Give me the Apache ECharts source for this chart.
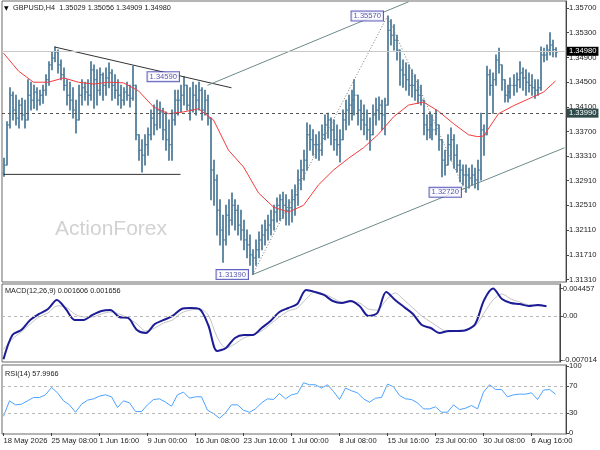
<!DOCTYPE html>
<html>
<head>
<meta charset="utf-8">
<script src="https://cdn.jsdelivr.net/npm/echarts@6.0.0/dist/echarts.min.js"></script>
<style>html,body{margin:0;padding:0;background:#fff}#c{width:600px;height:450px}</style>
</head>
<body>
<div id="c"></div>
<script>
// ---------------- data ----------------
const symbolName = 'GBPUSD,H4';
const timeLabels = ['18 May 2026','25 May 08:00','1 Jun 16:00','9 Jun 00:00','16 Jun 08:00','23 Jun 16:00',
  '1 Jul 00:00','8 Jul 08:00','15 Jul 16:00','23 Jul 00:00','30 Jul 08:00','6 Aug 16:00'];
const slotCount = 188;
const firstOpen = 1.3303;
const highs = [
 1.3327,1.3386,1.3441,1.3434,1.3429,1.3421,1.3424,1.3421,1.3454,1.3450,
 1.3445,1.3441,1.3437,1.3445,1.3462,1.3483,1.3499,1.3507,1.3502,1.3486,
 1.3473,1.3454,1.3450,1.3441,1.3421,1.3445,1.3454,1.3450,1.3454,1.3483,
 1.3478,1.3470,1.3473,1.3465,1.3473,1.3481,1.3470,1.3462,1.3454,1.3445,
 1.3441,1.3450,1.3445,1.3476,1.3445,1.3365,1.3357,1.3365,1.3376,1.3405,
 1.3413,1.3421,1.3418,1.3408,1.3402,1.3389,1.3405,1.3437,1.3437,1.3445,
 1.3459,1.3445,1.3441,1.3450,1.3445,1.3450,1.3441,1.3437,1.3429,1.3392,
 1.3324,1.3300,1.3260,1.3235,1.3251,1.3260,1.3271,1.3260,1.3251,1.3243,
 1.3227,1.3211,1.3203,1.3179,1.3195,1.3208,1.3219,1.3227,1.3235,1.3243,
 1.3251,1.3263,1.3268,1.3272,1.3268,1.3260,1.3276,1.3284,1.3308,1.3324,
 1.3340,1.3384,1.3381,1.3373,1.3365,1.3370,1.3381,1.3397,1.3400,1.3392,
 1.3389,1.3381,1.3373,1.3405,1.3421,1.3429,1.3437,1.3454,1.3429,1.3421,
 1.3413,1.3405,1.3392,1.3413,1.3424,1.3426,1.3421,1.3424,1.3557,1.3551,
 1.3543,1.3526,1.3502,1.3486,1.3481,1.3478,1.3470,1.3462,1.3454,1.3445,
 1.3421,1.3397,1.3402,1.3397,1.3405,1.3381,1.3357,1.3340,1.3365,1.3376,
 1.3365,1.3349,1.3324,1.3316,1.3316,1.3311,1.3316,1.3311,1.3324,1.3400,
 1.3381,1.3476,1.3470,1.3465,1.3494,1.3505,1.3478,1.3454,1.3445,1.3457,
 1.3462,1.3465,1.3483,1.3473,1.3470,1.3465,1.3462,1.3454,1.3454,1.3507,
 1.3505,1.3510,1.3530,1.3518,1.35056];
const lows = [
 1.3298,1.3316,1.3376,1.3389,1.3381,1.3376,1.3389,1.3376,1.3389,1.3405,
 1.3408,1.3405,1.3413,1.3416,1.3429,1.3445,1.3470,1.3483,1.3465,1.3454,
 1.3437,1.3413,1.3405,1.3392,1.3368,1.3389,1.3413,1.3421,1.3413,1.3421,
 1.3408,1.3413,1.3429,1.3421,1.3429,1.3441,1.3421,1.3424,1.3413,1.3408,
 1.3413,1.3421,1.3410,1.3421,1.3357,1.3324,1.3305,1.3316,1.3332,1.3357,
 1.3365,1.3373,1.3376,1.3357,1.3340,1.3324,1.3324,1.3381,1.3397,1.3402,
 1.3413,1.3405,1.3389,1.3402,1.3397,1.3405,1.3389,1.3397,1.3381,1.3260,
 1.3251,1.3203,1.3187,1.3159,1.3187,1.3203,1.3219,1.3211,1.3203,1.3195,
 1.3179,1.3166,1.3154,1.3139,1.3154,1.3166,1.3179,1.3187,1.3195,1.3203,
 1.3211,1.3224,1.3227,1.3230,1.3219,1.3219,1.3224,1.3235,1.3251,1.3276,
 1.3292,1.3308,1.3340,1.3332,1.3327,1.3324,1.3332,1.3357,1.3360,1.3349,
 1.3340,1.3332,1.3321,1.3357,1.3373,1.3381,1.3389,1.3397,1.3381,1.3373,
 1.3365,1.3357,1.3340,1.3365,1.3381,1.3389,1.3373,1.3365,1.3413,1.3510,
 1.3502,1.3486,1.3445,1.3442,1.3437,1.3429,1.3426,1.3421,1.3416,1.3413,
 1.3365,1.3357,1.3360,1.3357,1.3365,1.3340,1.3297,1.3300,1.3316,1.3324,
 1.3311,1.3305,1.3289,1.3284,1.3272,1.3279,1.3284,1.3279,1.3276,1.3292,
 1.3332,1.3365,1.3429,1.3400,1.3445,1.3465,1.3437,1.3418,1.3418,1.3424,
 1.3429,1.3434,1.3441,1.3437,1.3429,1.3434,1.3429,1.3424,1.3429,1.3437,
 1.3483,1.3486,1.3494,1.3491,1.34909];
const closes = [
 1.3316,1.3381,1.3429,1.3405,1.3392,1.3413,1.3397,1.3389,1.3429,1.3421,
 1.3434,1.3421,1.3429,1.3437,1.3454,1.3478,1.3489,1.3499,1.3478,1.3462,
 1.3445,1.3429,1.3421,1.3405,1.3389,1.3429,1.3441,1.3434,1.3429,1.3470,
 1.3454,1.3437,1.3462,1.3445,1.3457,1.3465,1.3445,1.3437,1.3429,1.3421,
 1.3434,1.3429,1.3424,1.3445,1.3365,1.3340,1.3332,1.3349,1.3365,1.3392,
 1.3381,1.3405,1.3402,1.3373,1.3357,1.3349,1.3389,1.3421,1.3421,1.3429,
 1.3445,1.3413,1.3405,1.3429,1.3421,1.3437,1.3405,1.3421,1.3392,1.3308,
 1.3292,1.3243,1.3211,1.3195,1.3235,1.3227,1.3251,1.3243,1.3219,1.3211,
 1.3195,1.3187,1.3171,1.3166,1.3179,1.3195,1.3203,1.3211,1.3219,1.3227,
 1.3240,1.3251,1.3260,1.3251,1.3243,1.3247,1.3260,1.3268,1.3292,1.3308,
 1.3324,1.3365,1.3357,1.3349,1.3349,1.3340,1.3365,1.3381,1.3389,1.3373,
 1.3357,1.3349,1.3357,1.3389,1.3405,1.3413,1.3421,1.3429,1.3405,1.3389,
 1.3381,1.3373,1.3365,1.3397,1.3405,1.3413,1.3397,1.3413,1.3534,1.3526,
 1.3518,1.3502,1.3470,1.3462,1.3454,1.3445,1.3445,1.3437,1.3429,1.3421,
 1.3381,1.3373,1.3381,1.3373,1.3381,1.3357,1.3324,1.3316,1.3349,1.3357,
 1.3332,1.3316,1.3308,1.3300,1.3300,1.3295,1.3300,1.3292,1.3308,1.3373,
 1.3365,1.3462,1.3445,1.3454,1.3486,1.3478,1.3454,1.3429,1.3434,1.3445,
 1.3445,1.3454,1.3465,1.3457,1.3450,1.3445,1.3441,1.3437,1.3441,1.3494,
 1.3494,1.3502,1.3510,1.35029,1.34980];
// red moving average, read at these bar slots
const maIdx  = [0,5,10,15,20,25,30,35,40,45,50,55,60,65,70,75,80,85,90,95,100,105,110,115,120,125,130,135,140,145,150,155,158,160,165,170,175,180,184];
const maVals = [1.3497,1.3468,1.3450,1.3450,1.3457,1.3450,1.3447,1.3450,1.3449,1.3436,1.3410,1.3399,1.3402,1.3407,1.3389,1.3340,1.3313,1.3271,1.3248,1.3240,
  1.3251,1.3284,1.3308,1.3327,1.3344,1.3366,1.3394,1.3413,1.3418,1.3403,1.3383,1.3365,1.3362,1.3363,1.3399,1.3412,1.3423,1.3434,1.3452];
// MACD (read every 3rd slot)
const macdMain = [-0.00690,-0.00300,-0.00220,-0.00059,0.00037,0.00117,0.00261,0.00117,-0.00059,-0.00059,
  0.00021,0.00085,0.00101,-0.00011,-0.00027,-0.00220,-0.00268,-0.00124,-0.00059,0.00005,
  0.00117,0.00133,0.00117,-0.00140,-0.00557,-0.00508,-0.00348,-0.00300,-0.00300,-0.00188,
  -0.00075,0.00069,0.00133,0.00197,0.00422,0.00390,0.00342,0.00245,0.00213,0.00245,
  0.00165,0.00005,0.00053,0.00390,0.00261,0.00149,0.00037,-0.00140,-0.00188,-0.00268,
  -0.00236,-0.00236,-0.00220,-0.00124,0.00261,0.004457,0.00277,0.00213,0.00197,0.00165,
  0.00181,0.001606];
const macdSignal = [-0.00528,-0.00364,-0.00252,-0.00124,-0.00011,0.00053,0.00165,0.00149,0.00037,-0.00011,
  -0.00011,0.00037,0.00069,0.00037,-0.00027,-0.00124,-0.00236,-0.00188,-0.00107,-0.00059,
  0.00053,0.00101,0.00117,0.00021,-0.00332,-0.00508,-0.00444,-0.00348,-0.00300,-0.00236,
  -0.00124,-0.00011,0.00085,0.00133,0.00277,0.00390,0.00358,0.00294,0.00229,0.00229,
  0.00213,0.00117,0.00101,0.00261,0.00374,0.00261,0.00133,0.00005,-0.00091,-0.00188,
  -0.00252,-0.00236,-0.00220,-0.00156,0.00053,0.00261,0.00358,0.00277,0.00229,0.00181,
  0.00165,0.001656];
// RSI(14) (read every 2nd slot)
const rsiVals = [25,48,42,43,48,53,53,57,68,60,48,42,31,43,49,51,55,57,54,38,
  48,45,32,32,42,50,51,46,40,57,61,52,54,54,34,29,22,30,42,42,
  34,31,36,45,51,50,59,51,57,59,75,72,72,67,72,62,50,67,63,60,
  51,46,52,53,73,69,56,51,50,45,36,36,39,31,31,42,35,37,41,36,
  61,72,65,65,54,57,58,58,60,50,64,65,57.9966];
// axis tick values
const priceTicks = [1.31310,1.31710,1.32110,1.32510,1.32910,1.33310,1.33700,1.34100,1.34500,1.34900,1.35300,1.35700];
const macdTicks = [0.004457,0,-0.007014];
const rsiTicks = [0,30,70,100];
const rsiLevels = [30,70];
// levels, swing labels and drawn lines
const currentPrice = 1.34980;
const dashedLevel = 1.33990;
const swingIdx = [60,83,128,154];
const swingPrice = [1.34590,1.31390,1.35570,1.32720];
const descLine = [[17,1.3507],[76,1.3441]];
const upperChannel = [[68,1.3445],[135,1.3580]];
const lowerChannel = [[83,1.3139],[187,1.3344]];
const supportLine = [[0,1.3301],[59,1.3301]];
const zigzag = [[83,1.3139],[128,1.3557],[154,1.3272]];

// ---------------- build ----------------
const FONT = 'Liberation Sans';
const cats = Array.from({length: slotCount}, (_, i) => String(i));
const ohlc = closes.map((c, i) => [i, i === 0 ? firstOpen : closes[i - 1], highs[i], lows[i], c]);
const n = closes.length;
const maData = maIdx.map((j, k) => [j, maVals[k]]);
const macdMainData = macdMain.map((v, k) => [k * 3, v]);
const macdSigData = macdSignal.map((v, k) => [k * 3, v]);
const rsiData = rsiVals.map((v, k) => [k * 2, v]);
const swingData = swingIdx.map((j, k) => [j, swingPrice[k]]);
const barColor = '#4a7898';

function renderOHLC(params, api) {
  const x = api.value(0);
  const pO = api.coord([x, api.value(1)]);
  const pH = api.coord([x, api.value(2)]);
  const pL = api.coord([x, api.value(3)]);
  const pC = api.coord([x, api.value(4)]);
  const cx = Math.round(pH[0]);
  const st = {stroke: barColor, lineWidth: 1.7};
  return {type: 'group', children: [
    {type: 'line', shape: {x1: cx, y1: pH[1] - 0.5, x2: cx, y2: pL[1] + 0.5}, style: st},
    {type: 'line', shape: {x1: cx - 1.6, y1: pO[1], x2: cx, y2: pO[1]}, style: {stroke: barColor, lineWidth: 1}},
    {type: 'line', shape: {x1: cx, y1: pC[1], x2: cx + 1.6, y2: pC[1]}, style: {stroke: barColor, lineWidth: 1}}
  ]};
}

const gridBase = {left: 2, right: 34, show: true, borderColor: '#6a6a6a', borderWidth: 1, backgroundColor: '#fff'};
function xAx(gi, showLabels) {
  return {
    type: 'category', gridIndex: gi, data: cats, boundaryGap: true,
    axisLine: {show: false},
    axisTick: {show: showLabels, interval: 15, alignWithLabel: true, length: 3, lineStyle: {color: '#444'}},
    axisLabel: {show: showLabels, interval: 15, align: 'left', margin: 3, fontSize: 7.6, fontFamily: FONT, color: '#222',
      formatter: (v, idx) => timeLabels[idx / 16] || ''},
    splitLine: {show: false}
  };
}
function yAx(gi, min, max, ticks, fmt) {
  return {
    type: 'value', gridIndex: gi, position: 'right', min: min, max: max,
    axisLine: {show: true, lineStyle: {color: '#444'}},
    axisTick: {show: true, length: 3, customValues: ticks, lineStyle: {color: '#444'}},
    axisLabel: {customValues: ticks, formatter: fmt, fontSize: 7.6, fontFamily: FONT, color: '#222', margin: 3},
    splitLine: {show: false}
  };
}
const boxLabel = (bg, val) => ({
  show: true, position: 'end', distance: 1, formatter: () => val.toFixed(5),
  backgroundColor: bg, color: '#fff', padding: [1, 2, 0, 2], fontSize: 7.6, fontFamily: FONT
});

const lastIdx = n - 1;
const header = symbolName + '  ' + [ohlc[lastIdx][1], highs[lastIdx], lows[lastIdx], closes[lastIdx]].map(v => v.toFixed(5)).join(' ');
const macdHeader = 'MACD(12,26,9) ' + macdMain[macdMain.length - 1].toFixed(6) + ' ' + macdSignal[macdSignal.length - 1].toFixed(6);
const rsiHeader = 'RSI(14) ' + rsiVals[rsiVals.length - 1].toFixed(4);

const lineSeries = (data, color, dash, width) => ({
  type: 'line', xAxisIndex: 0, yAxisIndex: 0, data: data, showSymbol: false, silent: true, animation: false,
  lineStyle: {color: color, width: width || 1, type: dash || 'solid'}, z: 3
});

const option = {
  animation: false,
  backgroundColor: '#fff',
  grid: [
    Object.assign({}, gridBase, {top: 1, height: 281}),
    Object.assign({}, gridBase, {top: 284, height: 78}),
    Object.assign({}, gridBase, {top: 365, height: 69})
  ],
  xAxis: [xAx(0, false), xAx(1, false), xAx(2, true)],
  yAxis: [
    yAx(0, 1.312699, 1.358132, priceTicks, v => v.toFixed(5)),
    yAx(1, -0.007335, 0.005179, macdTicks, v => (v === 0 ? '0.00' : String(v))),
    yAx(2, -1.5, 101.5, rsiTicks, v => String(v))
  ],
  graphic: [
    {type: 'text', x: 55, y: 229, z: 0, style: {text: 'ActionForex', fill: '#d2d2d2', fontSize: 21, fontFamily: FONT, verticalAlign: 'middle'}},
    {type: 'text', x: 4, y: 8, z: 100, style: {text: '▼', fill: '#000', fontSize: 6, fontFamily: 'DejaVu Sans', verticalAlign: 'middle'}},
    {type: 'text', x: 13, y: 8, z: 100, style: {text: header, fill: '#222', fontSize: 7.3, fontFamily: FONT, verticalAlign: 'middle'}},
    {type: 'text', x: 5, y: 291, z: 100, style: {text: macdHeader, fill: '#222', fontSize: 7.3, fontFamily: FONT, verticalAlign: 'middle'}},
    {type: 'text', x: 5, y: 374, z: 100, style: {text: rsiHeader, fill: '#222', fontSize: 7.3, fontFamily: FONT, verticalAlign: 'middle'}}
  ],
  series: [
    // price bars
    {type: 'custom', xAxisIndex: 0, yAxisIndex: 0, data: ohlc, renderItem: renderOHLC,
     encode: {x: 0, y: [1, 2, 3, 4]}, silent: true, z: 2, clip: true},
    // moving average with level lines
    {type: 'line', xAxisIndex: 0, yAxisIndex: 0, data: maData, showSymbol: false, silent: true,
     lineStyle: {color: '#f23c3c', width: 1}, z: 4,
     markLine: {silent: true, symbol: ['none', 'none'], animation: false, data: [
       {yAxis: currentPrice, lineStyle: {color: '#c8c8c8', width: 1, type: 'solid'}, label: boxLabel('#000', currentPrice)},
       {yAxis: dashedLevel, lineStyle: {color: '#555', width: 1, type: [3, 3]}, label: boxLabel('#2e4a4a', dashedLevel)}
     ]}},
    lineSeries(descLine, '#333', 'solid', 1),
    lineSeries(upperChannel, '#6e8a8a', 'solid', 1),
    lineSeries(lowerChannel, '#6e8a8a', 'solid', 1),
    lineSeries(supportLine, '#333', 'solid', 1),
    lineSeries(zigzag, '#777', [1, 2], 1),
    // swing labels
    {type: 'scatter', xAxisIndex: 0, yAxisIndex: 0, data: swingData, symbolSize: 1, silent: true, z: 6,
     itemStyle: {color: 'rgba(0,0,0,0)'},
     label: {show: true, position: 'left', distance: 4, formatter: p => p.value[1].toFixed(5),
       backgroundColor: '#fff', borderColor: '#3a3ab0', borderWidth: 1, color: '#2a2a9a',
       padding: [1, 2, 0, 2], fontSize: 7.6, fontFamily: FONT}},
    // MACD
    {type: 'line', xAxisIndex: 1, yAxisIndex: 1, data: macdSigData, showSymbol: false, silent: true, smooth: 0.3,
     lineStyle: {color: '#c4c4c4', width: 1}, z: 3,
     markLine: {silent: true, symbol: ['none', 'none'], label: {show: false},
       lineStyle: {color: '#b8b8b8', type: [3, 3], width: 1}, data: [{yAxis: 0}]}},
    {type: 'line', xAxisIndex: 1, yAxisIndex: 1, data: macdMainData, showSymbol: false, silent: true, smooth: 0.3,
     lineStyle: {color: '#1c1c96', width: 2}, z: 4},
    // RSI
    {type: 'line', xAxisIndex: 2, yAxisIndex: 2, data: rsiData, showSymbol: false, silent: true,
     lineStyle: {color: '#4da3ff', width: 1}, z: 3,
     markLine: {silent: true, symbol: ['none', 'none'], label: {show: false},
       lineStyle: {color: '#b8b8b8', type: [3, 3], width: 1}, data: rsiLevels.map(v => ({yAxis: v}))}}
  ]
};

const chart = echarts.init(document.getElementById('c'), null, {renderer: 'canvas'});
chart.setOption(option);
</script>
</body>
</html>
